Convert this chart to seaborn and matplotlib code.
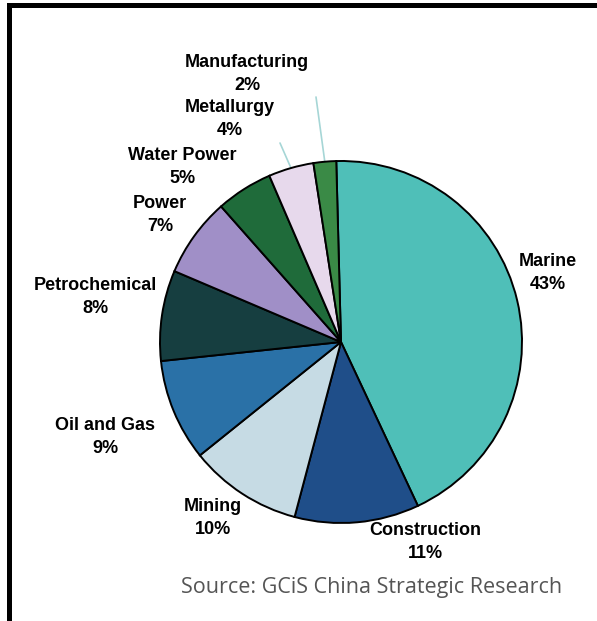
import numpy as np
import matplotlib
matplotlib.use("Agg")
import matplotlib.pyplot as plt
import seaborn as sns
from matplotlib.patches import Rectangle

# 数据
sectors = ['Marine', 'Construction', 'Mining', 'Oil and Gas', 'Petrochemical',
           'Power', 'Water Power', 'Metallurgy', 'Manufacturing']
shares = [43, 11, 10, 9, 8, 7, 5, 4, 2]
colors = ['#4fbfb8', '#1f4e89', '#c6dbe4', '#2a71a7', '#163e40',
          '#a08fc7', '#1f6b3a', '#e7d9ec', '#3a8a46']

sns.set_style('white')
plt.rcParams['font.family'] = ['Liberation Sans', 'DejaVu Sans']

W, H = 597, 621
fig = plt.figure(figsize=(W / 100, H / 100), dpi=100)
ax = fig.add_axes([0, 0, 1, 1])

cx, cy, r = 341, H - 342, 181
wedges, _ = ax.pie(shares, colors=colors, startangle=91.5, counterclock=False,
                   center=(cx, cy), radius=r, frame=True,
                   wedgeprops=dict(edgecolor='black', linewidth=1.4))
ax.set_xlim(0, W)
ax.set_ylim(0, H)
ax.set_aspect('equal')
ax.axis('off')

# 标签位置 (像素坐标，y 向下)
label_pos = {
    'Marine': (548, 273),
    'Construction': (425, 542),
    'Mining': (213, 518),
    'Oil and Gas': (105, 437),
    'Petrochemical': (95, 297),
    'Power': (160, 215),
    'Water Power': (182, 167),
    'Metallurgy': (230, 119),
    'Manufacturing': (247, 74),
}
for name, val in zip(sectors, shares):
    x, y = label_pos[name]
    ax.text(x, H - y, f'{name}\n{val}%', ha='center', va='center',
            fontsize=13, fontweight='bold', linespacing=1.4, color='black')

# 引线
leader_end = {'Metallurgy': (280, 143), 'Manufacturing': (316, 97)}
for w, name in zip(wedges, sectors):
    if name in leader_end:
        th = np.deg2rad((w.theta1 + w.theta2) / 2)
        px, py = cx + r * np.cos(th), cy + r * np.sin(th)
        ex, ey = leader_end[name]
        ax.plot([px, ex], [py, H - ey], color='#a6d6d6', lw=1.2, zorder=0)

ax.text(372, H - 588, 'Source: GCiS China Strategic Research', ha='center', va='center',
        fontsize=15.5, color='#555555', family=['Open Sans', 'DejaVu Sans'])

# 外框
fig.patches.append(Rectangle((9 / W, -0.05), 1.1, (H - 4.5) / H + 0.05, transform=fig.transFigure,
                             fill=False, edgecolor='black', linewidth=3.6))

fig.savefig('out.png', dpi=100)
